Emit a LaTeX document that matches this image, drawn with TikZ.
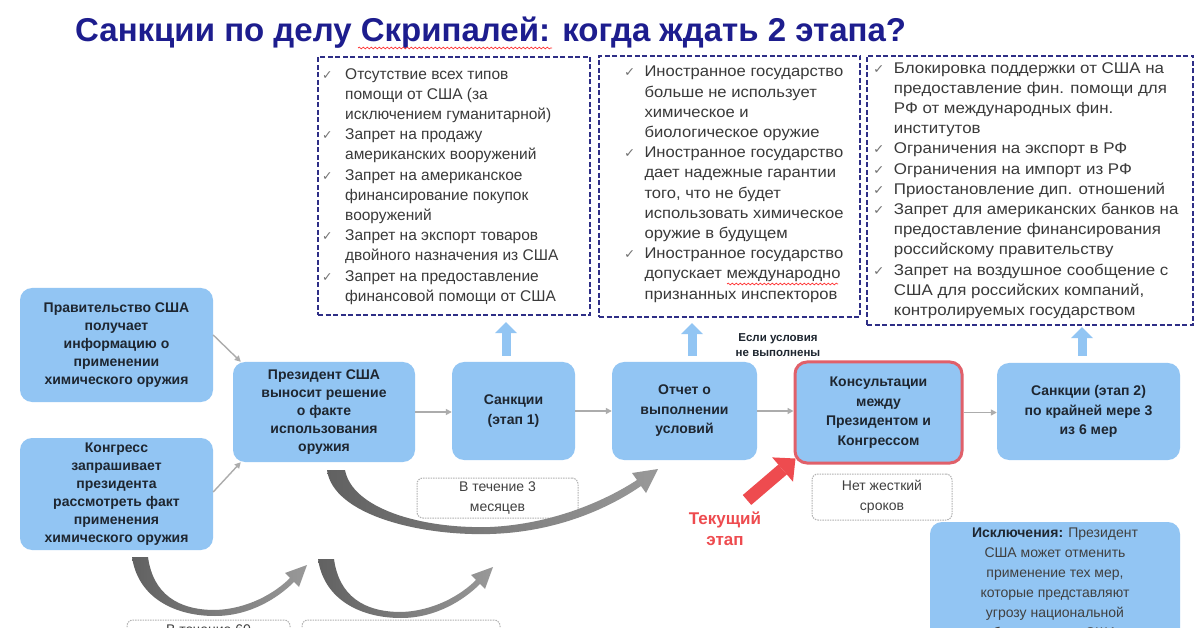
\documentclass[tikz,border=0pt]{standalone}
\usepackage{fontspec}
\setmainfont{Liberation Sans}
\newfontfamily\djv{DejaVu Sans}
\usetikzlibrary{arrows.meta,decorations.pathmorphing}
\definecolor{boxblue}{HTML}{92C5F3}
\definecolor{navy}{HTML}{2E2E86}
\definecolor{titleblue}{HTML}{1D1D8E}
\definecolor{txt}{HTML}{1E2630}
\definecolor{listtxt}{HTML}{3A3A3A}
\definecolor{redc}{HTML}{EE4B4F}
\definecolor{redborder}{HTML}{E0606A}
\newcommand\ck[1]{\makebox[#1][l]{\textcolor{black!55}{\djv\fontsize{12.5}{20}\selectfont ✓}}}
\newcommand\ind[1]{\hspace*{#1}}
\tikzset{
  bluebox/.style={fill=boxblue, rounded corners=12pt, align=center, text=txt,
    font=\bfseries\fontsize{14}{18}\selectfont, inner sep=2pt},
  dbox/.style={draw=navy, line width=2.4pt, dash pattern=on 5pt off 2.5pt, fill=white, inner sep=0pt},
  listtext/.style={anchor=north west, inner sep=0pt, align=left, text=listtxt,
    font=\fontsize{15.5}{20.2}\selectfont},
  note/.style={draw=gray!60, line width=1pt, dash pattern=on 1.5pt off 1pt, rounded corners=6pt,
    fill=white, align=center, text=black!75, font=\fontsize{14}{20}\selectfont, inner sep=0pt},
  conn/.style={draw=gray!65, line width=1.4pt, -{Triangle[length=6pt,width=6pt]}},
  upar/.style={draw=boxblue, line width=9pt, -{Triangle[length=11pt,width=22pt,line width=0pt]}},
  swoosh/.style={left color=black!62, right color=black!40, draw=none},
  squig/.style={draw=red!80, line width=0.7pt, decorate, decoration={snake, amplitude=0.9pt, segment length=4pt}}
}
\begin{document}
\begin{tikzpicture}[x=1pt,y=-1pt]
\useasboundingbox (0,0) rectangle (1200,628);
\clip (0,0) rectangle (1200,628);
\fill[white] (0,0) rectangle (1200,628);

% title
\node[anchor=base west, inner sep=0pt, text=titleblue, font=\bfseries\fontsize{33}{38}\selectfont] (title) at (75,42)
  {Санкции по делу Скрипалей: когда ждать 2 этапа?};
\draw[squig] (358,48) -- (552,48);

% dashed boxes
\node[dbox, minimum width=272pt, minimum height=258pt] (D1) at (454,186) {};
\node[dbox, minimum width=261pt, minimum height=261pt] (D2) at (729.5,186.5) {};
\node[dbox, minimum width=326pt, minimum height=269pt] (D3) at (1030,190.5) {};

\node[listtext] (L1) at (322,68) {%
\ck{23pt}Отсутствие всех типов\\
\ind{23pt}помощи от США (за\\
\ind{23pt}исключением гуманитарной)\\
\ck{23pt}Запрет на продажу\\
\ind{23pt}американских вооружений\\
\ck{23pt}Запрет на американское\\
\ind{23pt}финансирование покупок\\
\ind{23pt}вооружений\\
\ck{23pt}Запрет на экспорт товаров\\
\ind{23pt}двойного назначения из США\\
\ck{23pt}Запрет на предоставление\\
\ind{23pt}финансовой помощи от США};

\begin{scope}[shift={(624,66)}, xscale=1.07]
\node[listtext, transform shape] (L2) at (0,0) {%
\ck{19pt}Иностранное государство\\
\ind{19pt}больше не использует\\
\ind{19pt}химическое и\\
\ind{19pt}биологическое оружие\\
\ck{19pt}Иностранное государство\\
\ind{19pt}дает надежные гарантии\\
\ind{19pt}того, что не будет\\
\ind{19pt}использовать химическое\\
\ind{19pt}оружие в будущем\\
\ck{19pt}Иностранное государство\\
\ind{19pt}допускает международно\\
\ind{19pt}признанных инспекторов};
\end{scope}
\draw[squig] (727,284) -- (838,284);

\begin{scope}[shift={(873,62)}, xscale=1.09]
\node[listtext, transform shape] (L3) at (0,0) {%
\ck{19pt}Блокировка поддержки от США на\\
\ind{19pt}предоставление фин. помощи для\\
\ind{19pt}РФ от международных фин.\\
\ind{19pt}институтов\\
\ck{19pt}Ограничения на экспорт в РФ\\
\ck{19pt}Ограничения на импорт из РФ\\
\ck{19pt}Приостановление дип. отношений\\
\ck{19pt}Запрет для американских банков на\\
\ind{19pt}предоставление финансирования\\
\ind{19pt}российскому правительству\\
\ck{19pt}Запрет на воздушное сообщение с\\
\ind{19pt}США для российских компаний,\\
\ind{19pt}контролируемых государством};
\end{scope}

% blue boxes
\node[bluebox, minimum width=193pt, minimum height=114pt] (A) at (116.5,345)
  {Правительство США\\получает\\информацию о\\применении\\химического оружия};
\node[bluebox, minimum width=193pt, minimum height=112pt] (B) at (116.5,494)
  {Конгресс\\запрашивает\\президента\\рассмотреть факт\\применения\\химического оружия};
\node[bluebox, minimum width=182pt, minimum height=100pt] (P) at (324,412)
  {Президент США\\выносит решение\\о факте\\использования\\оружия};
\node[bluebox, minimum width=123pt, minimum height=98pt, font=\bfseries\fontsize{14}{20}\selectfont] (S1) at (513.5,411)
  {Санкции\\(этап 1)};
\node[bluebox, minimum width=145pt, minimum height=98pt, font=\bfseries\fontsize{14}{19.5}\selectfont] (R) at (684.5,411)
  {Отчет о\\выполнении\\условий};
\node[bluebox, draw=redborder, line width=3pt, minimum width=167pt, minimum height=101pt, font=\bfseries\fontsize{14}{19.5}\selectfont] (C) at (878.5,412.5)
  {Консультации\\между\\Президентом и\\Конгрессом};
\node[bluebox, minimum width=183pt, minimum height=97pt, font=\bfseries\fontsize{14}{19.5}\selectfont] (S2) at (1088.5,411.5)
  {Санкции (этап 2)\\по крайней мере 3\\из 6 мер};
\node[bluebox, minimum width=250pt, minimum height=160pt] (E) at (1055,602) {};
\node[anchor=north, inner sep=0pt, align=center, text=black!75, font=\fontsize{14}{20}\selectfont] (Et) at (1055,523)
  {\strut\textcolor{txt}{\bfseries Исключения:} Президент\\США может отменить\\применение тех мер,\\которые представляют\\угрозу национальной\\безопасности США};

% connectors
\draw[conn] ([yshift=10pt]A.east) -- ([xshift=8pt]P.north west);
\draw[conn] ([yshift=2pt]B.east) -- ([xshift=8pt]P.south west);
\draw[conn] (P.east) -- (P.east -| S1.west);
\draw[conn] (S1.east) -- (S1.east -| R.west);
\draw[conn] (R.east) -- (R.east -| C.west);
\draw[conn] (C.east) -- (C.east -| S2.west);

% up arrows
\draw[upar, shorten >=6pt] ([xshift=-7.5pt,yshift=6pt]S1.north) -- ([xshift=-7.5pt]S1.north |- D1.south);
\draw[upar, shorten >=5pt] ([xshift=7.5pt,yshift=6pt]R.north) -- ([xshift=7.5pt]R.north |- D2.south);
\draw[upar, shorten >=1pt] ([xshift=-6.5pt,yshift=7pt]S2.north) -- ([xshift=-6.5pt]S2.north |- D3.south);

% condition label
\node[align=center, text=txt, font=\bfseries\fontsize{11.5}{15.5}\selectfont, inner sep=0pt] (cond) at (778,345)
  {Если условия\\не выполнены};

% notes
\node[note, minimum width=161pt, minimum height=40pt] (N1) at (497.5,498) {В течение 3\\месяцев};
\node[note, minimum width=140pt, minimum height=46pt] (N2) at (882,497) {Нет жесткий\\сроков};
\node[note, minimum width=163pt, minimum height=40pt] (N3) at (208.5,640) {};
\node[anchor=base, inner sep=0pt, text=black!75, font=\fontsize{14}{20}\selectfont] (N3t) at (208.5,634) {В течение 60};
\node[note, minimum width=198pt, minimum height=40pt] (N4) at (401,640) {};

% current stage
\node[align=center, text=redc, font=\bfseries\fontsize{17}{21}\selectfont, inner sep=0pt] (cur) at (725,529) {Текущий\\этап};
\coordinate (rt) at (747,500);
\draw[redc, line width=13pt, -{Triangle[length=17pt,width=32pt,line width=0pt]}] (rt) -- ([xshift=2pt,yshift=6pt]C.south west);

% swoosh arrows
\shade[swoosh] (327,470) .. controls (333,515) and (420,536) .. (490,534)
  .. controls (560,532) and (612,506) .. (641,486) -- (646,493) -- (658,469) -- (632,473) -- (637,480)
  .. controls (608,499) and (555,524) .. (490,527) .. controls (420,529) and (352,508) .. (345,470) -- cycle;
\shade[swoosh] (132,557) .. controls (138,598) and (175,616) .. (215,616)
  .. controls (250,616) and (278,598) .. (294,582) -- (299,587) -- (307,565) -- (285,573) -- (290,578)
  .. controls (275,593) and (248,609) .. (215,610) .. controls (178,610) and (153,594) .. (148,557) -- cycle;
\begin{scope}[shift={(186,2)}]
\shade[swoosh] (132,557) .. controls (138,598) and (175,616) .. (215,616)
  .. controls (250,616) and (278,598) .. (294,582) -- (299,587) -- (307,565) -- (285,573) -- (290,578)
  .. controls (275,593) and (248,609) .. (215,610) .. controls (178,610) and (153,594) .. (148,557) -- cycle;
\end{scope}
\end{tikzpicture}
\end{document}
